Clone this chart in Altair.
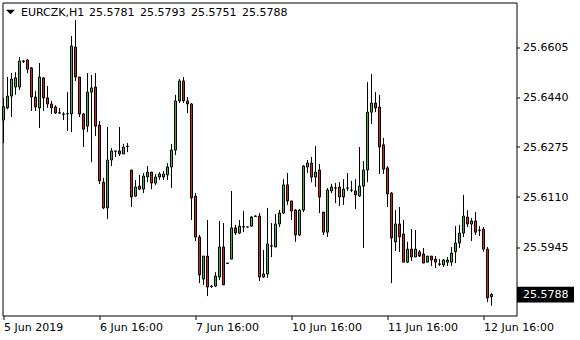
import altair as alt
import pandas as pd
import numpy as np

# ---- data (EURCZK, H1) ----
opens = [25.6364, 25.6404, 25.6443, 25.6473, 25.6473, 25.6559, 25.6562, 25.6536, 25.6440, 25.6404,
         25.6503, 25.6437, 25.6417, 25.6407, 25.6388, 25.6384, 25.6384, 25.6384, 25.6605, 25.6506,
         25.6384, 25.6344, 25.6456, 25.6473, 25.6347, 25.6159, 25.6074, 25.6232, 25.6262, 25.6262,
         25.6252, 25.6277, 25.6199, 25.6113, 25.6146, 25.6136, 25.6176, 25.6192, 25.6156, 25.6176,
         25.6176, 25.6183, 25.6209, 25.6265, 25.6427, 25.6493, 25.6427, 25.6417, 25.6113, 25.5978,
         25.5839, 25.5915, 25.5816, 25.5816, 25.5846, 25.5945, 25.5892, 25.5905, 25.6008, 25.5991,
         25.6011, 25.6011, 25.6014, 25.6047, 25.6047, 25.5846, 25.5856, 25.5948, 25.5945, 25.6021,
         25.6057, 25.6150, 25.6097, 25.6067, 25.5985, 25.6067, 25.6209, 25.6222, 25.6176, 25.6199,
         25.6060, 25.5994, 25.6130, 25.6140, 25.6143, 25.6110, 25.6140, 25.6133, 25.6130, 25.6113,
         25.6146, 25.6199, 25.6390, 25.6420, 25.6407, 25.6282, 25.6206, 25.6123, 25.5962, 25.6021,
         25.5988, 25.5895, 25.5938, 25.5912, 25.5929, 25.5922, 25.5895, 25.5915, 25.5905, 25.5889,
         25.5886, 25.5895, 25.5895, 25.5929, 25.5958, 25.5991, 25.6044, 25.6021, 25.6031, 25.6001,
         25.6004, 25.5938, 25.5781]
highs = [25.6437, 25.6506, 25.6519, 25.6522, 25.6572, 25.6562, 25.6565, 25.6539, 25.6460, 25.6552,
         25.6506, 25.6476, 25.6427, 25.6413, 25.6404, 25.6390, 25.6456, 25.6641, 25.6694, 25.6506,
         25.6387, 25.6519, 25.6513, 25.6519, 25.6361, 25.6173, 25.6341, 25.6272, 25.6262, 25.6341,
         25.6285, 25.6288, 25.6199, 25.6166, 25.6183, 25.6189, 25.6212, 25.6192, 25.6186, 25.6192,
         25.6196, 25.6222, 25.6285, 25.6447, 25.6499, 25.6506, 25.6440, 25.6420, 25.6123, 25.5985,
         25.5915, 25.6034, 25.5820, 25.5862, 25.6031, 25.6024, 25.5892, 25.6130, 25.6018, 25.6034,
         25.6064, 25.6012, 25.6047, 25.6050, 25.6057, 25.5935, 25.6074, 25.6024, 25.6054, 25.6067,
         25.6169, 25.6189, 25.6097, 25.6070, 25.6070, 25.6215, 25.6232, 25.6242, 25.6278, 25.6219,
         25.6060, 25.6140, 25.6153, 25.6156, 25.6159, 25.6169, 25.6189, 25.6163, 25.6169, 25.6275,
         25.6229, 25.6489, 25.6516, 25.6456, 25.6447, 25.6305, 25.6212, 25.6126, 25.6067, 25.6077,
         25.6034, 25.5962, 25.6004, 25.6001, 25.5935, 25.5942, 25.5915, 25.5915, 25.5915, 25.5905,
         25.5905, 25.5912, 25.5945, 25.6014, 25.6018, 25.6117, 25.6067, 25.6041, 25.6060, 25.6014,
         25.6011, 25.5945, 25.5793]
lows = [25.6288, 25.6400, 25.6374, 25.6447, 25.6463, 25.6552, 25.6519, 25.6394, 25.6394, 25.6338,
        25.6394, 25.6404, 25.6384, 25.6384, 25.6384, 25.6364, 25.6328, 25.6324, 25.6493, 25.6374,
        25.6275, 25.6324, 25.6225, 25.6311, 25.6153, 25.6070, 25.6037, 25.6212, 25.6242, 25.6245,
        25.6252, 25.6258, 25.6077, 25.6110, 25.6133, 25.6123, 25.6159, 25.6136, 25.6150, 25.6166,
        25.6166, 25.6166, 25.6140, 25.6248, 25.6420, 25.6420, 25.6387, 25.6034, 25.5965, 25.5826,
        25.5820, 25.5783, 25.5810, 25.5813, 25.5836, 25.5820, 25.5891, 25.5905, 25.5985, 25.5988,
        25.5994, 25.6010, 25.6011, 25.6044, 25.5833, 25.5843, 25.5843, 25.5912, 25.5945, 25.6011,
        25.6054, 25.6084, 25.6034, 25.5962, 25.5981, 25.6060, 25.6189, 25.6159, 25.6143, 25.6057,
        25.5985, 25.5978, 25.6123, 25.6090, 25.6080, 25.6084, 25.6130, 25.6126, 25.6070, 25.6110,
        25.5942, 25.6159, 25.6351, 25.6390, 25.6186, 25.6186, 25.6077, 25.5826, 25.5932, 25.5929,
        25.5895, 25.5892, 25.5899, 25.5912, 25.5912, 25.5892, 25.5895, 25.5882, 25.5876, 25.5882,
        25.5879, 25.5882, 25.5882, 25.5892, 25.5942, 25.5978, 25.6011, 25.5965, 25.5985, 25.5981,
        25.5929, 25.5763, 25.5751]
closes = [25.6408, 25.6443, 25.6499, 25.6503, 25.6559, 25.6557, 25.6532, 25.6440, 25.6407, 25.6506,
          25.6437, 25.6417, 25.6404, 25.6387, 25.6387, 25.6383, 25.6385, 25.6608, 25.6506, 25.6384,
          25.6334, 25.6456, 25.6470, 25.6344, 25.6163, 25.6074, 25.6232, 25.6262, 25.6261, 25.6252,
          25.6275, 25.6278, 25.6110, 25.6143, 25.6136, 25.6179, 25.6192, 25.6156, 25.6176, 25.6186,
          25.6186, 25.6209, 25.6265, 25.6427, 25.6493, 25.6427, 25.6417, 25.6107, 25.5978, 25.5853,
          25.5915, 25.5813, 25.5815, 25.5849, 25.5945, 25.5820, 25.5891, 25.6008, 25.5991, 25.6014,
          25.6012, 25.6011, 25.6044, 25.6046, 25.5846, 25.5856, 25.5955, 25.5949, 25.6021, 25.6057,
          25.6150, 25.6097, 25.6064, 25.5985, 25.6067, 25.6212, 25.6222, 25.6176, 25.6192, 25.6110,
          25.5994, 25.6133, 25.6143, 25.6139, 25.6110, 25.6136, 25.6139, 25.6132, 25.6117, 25.6146,
          25.6199, 25.6390, 25.6420, 25.6404, 25.6275, 25.6202, 25.6120, 25.5975, 25.6021, 25.5978,
          25.5895, 25.5938, 25.5912, 25.5938, 25.5915, 25.5892, 25.5915, 25.5902, 25.5895, 25.5888,
          25.5902, 25.5902, 25.5925, 25.5958, 25.5991, 25.6047, 25.6021, 25.6031, 25.5994, 25.6000,
          25.5938, 25.5777, 25.5788]

x_tick_index = [0, 24, 48, 72, 96, 120]
x_tick_labels = ["5 Jun 2019", "6 Jun 16:00", "7 Jun 16:00", "10 Jun 16:00", "11 Jun 16:00", "12 Jun 16:00"]
y_tick_values = [25.6605, 25.6440, 25.6275, 25.6110, 25.5945]
symbol_label = "EURCZK,H1"
header_values = ["25.5781", "25.5793", "25.5751", "25.5788"]
y_domain = [25.571895, 25.675185]

# ---- layout ----
W, H = 514, 313
FONT = "DejaVu Sans"
UP, DOWN = "#36b836", "#e01c1c"

n = len(opens)
df = pd.DataFrame({"i": np.arange(n), "open": opens, "high": highs,
                   "low": lows, "close": closes})
df["dir"] = np.where(df["close"] >= df["open"], "up", "down")

xscale = alt.Scale(domain=[-0.25, (W - 1) / 4], nice=False, zero=False, padding=0)
yscale = alt.Scale(domain=y_domain, nice=False, zero=False, padding=0)

label_expr = " : ".join(
    f"datum.value == {v} ? '{t}'" for v, t in zip(x_tick_index, x_tick_labels)
) + " : ''"

xaxis = alt.Axis(values=x_tick_index, labelExpr=label_expr, orient="bottom",
                 labelAlign="left", labelBaseline="top", labelPadding=2,
                 tickSize=4, labelFlush=False, labelOverlap=False,
                 domain=False, grid=False, title=None)
yaxis = alt.Axis(values=y_tick_values, format=".4f", orient="right",
                 labelAlign="left", labelPadding=3, tickSize=3,
                 labelOverlap=False, labelFlush=False,
                 domain=False, grid=False, title=None)

wicks = alt.Chart(df).mark_rule(color="black", strokeWidth=1).encode(
    x=alt.X("i:Q", scale=xscale, axis=xaxis),
    y=alt.Y("low:Q", scale=yscale, axis=yaxis),
    y2="high:Q",
)

bodies = alt.Chart(df).mark_bar(width=2, stroke="black", strokeWidth=1).encode(
    x=alt.X("i:Q", scale=xscale),
    y=alt.Y("open:Q", scale=yscale),
    y2="close:Q",
    color=alt.Color("dir:N", scale=alt.Scale(domain=["up", "down"], range=[UP, DOWN]),
                    legend=None),
)

last = df.iloc[[-1]]
price_box = alt.Chart(last).transform_calculate(
    top="datum.close + 0.00258", bot="datum.close - 0.00258"
).mark_rect(color="black").encode(
    x=alt.value(W + 0.5), x2=alt.value(W + 57.5),
    y=alt.Y("top:Q", scale=yscale), y2="bot:Q",
)
price_text = alt.Chart(last).mark_text(
    align="left", baseline="middle", color="white", font=FONT, fontSize=11
).encode(
    x=alt.value(W + 6.5),
    y=alt.Y("close:Q", scale=yscale),
    text=alt.Text("close:Q", format=".4f"),
)

tri = alt.Chart(pd.DataFrame({"k": [0]})).mark_point(
    shape="M -1 -0.5 L 1 -0.5 L 0 0.5 Z", filled=True, color="black",
    opacity=1, size=81, strokeWidth=0
).encode(x=alt.value(8), y=alt.value(9.5))

head_sym = alt.Chart(pd.DataFrame({"t": [symbol_label]})).mark_text(
    align="left", baseline="middle", font=FONT, fontSize=11, color="black"
).encode(x=alt.value(18.5), y=alt.value(10), text="t:N")

head_layers = []
for k, v in enumerate(header_values):
    head_layers.append(
        alt.Chart(pd.DataFrame({"t": [v]})).mark_text(
            align="left", baseline="middle", font=FONT, fontSize=11, color="black"
        ).encode(x=alt.value(86.5 + 51 * k), y=alt.value(10), text="t:N")
    )

chart = alt.layer(wicks, bodies, price_box, price_text, tri, head_sym, *head_layers).properties(
    width=W, height=H,
    autosize=alt.AutoSizeParams(type="none"),
    padding={"left": 2.5, "top": 2.5, "right": 63.5, "bottom": 24.5},
    background="white",
).configure_view(
    stroke="black", strokeWidth=1, fill="white"
).configure_axis(
    labelFont=FONT, labelFontSize=11, labelColor="black",
    tickColor="black", tickWidth=1,
)

chart.save("out.html", embed_options={"renderer": "svg", "actions": False})
